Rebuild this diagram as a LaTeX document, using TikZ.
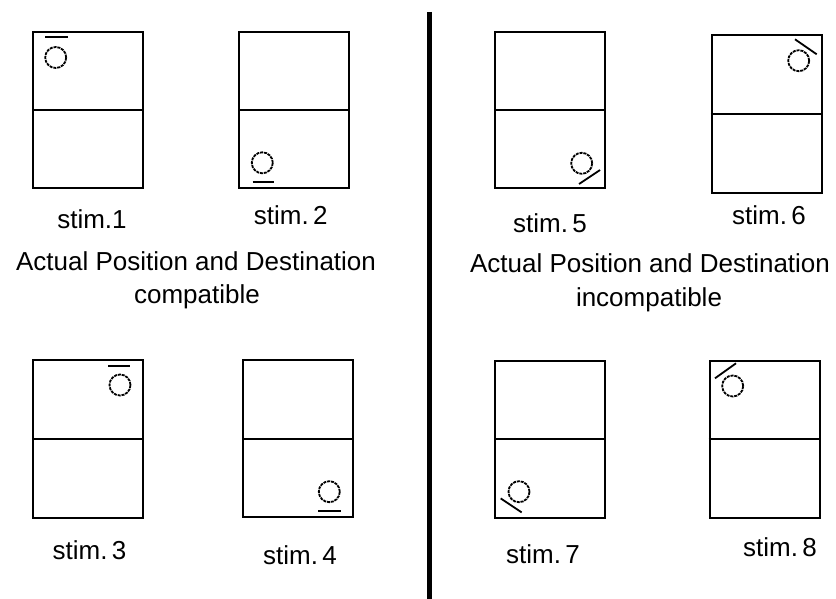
\documentclass[tikz,border=0pt]{standalone}
\usepackage{fontspec}
\setmainfont{Liberation Sans}
\begin{document}
\begin{tikzpicture}[x=1pt,y=-1pt,
  stimbox/.style={draw, line width=2pt, minimum width=110pt, minimum height=156pt, inner sep=0pt},
  ball/.style={draw, circle, line width=1.8pt, dash pattern=on 3pt off 0.9pt, minimum size=21pt, inner sep=0pt},
  mark line/.style={line width=1.8pt},
  lbl/.style={anchor=base, inner sep=0pt, font=\fontsize{26}{30}\selectfont},
  divider/.style={line width=5.5pt}
]
\useasboundingbox (0,0) rectangle (836,599);
% boxes
\node[stimbox] (b1) at (88,109.7) {};
\node[stimbox] (b2) at (294,109.7) {};
\node[stimbox] (b5) at (550.3,110) {};
\node[stimbox, minimum height=157.5pt] (b6) at (766.7,113.8) {};
\node[stimbox, minimum height=157.5pt] (b3) at (88,439) {};
\node[stimbox, minimum height=157.5pt] (b4) at (298,438.5) {};
\node[stimbox, minimum height=157.5pt] (b7) at (550.3,439.3) {};
\node[stimbox, minimum height=157.5pt] (b8) at (764.7,439.3) {};
\foreach \b in {b1,b2,b5,b6,b3,b4,b7,b8}{
  \draw[line width=2pt] (\b.west) -- (\b.east);
}
% balls
\node[ball] (c1) at (55.7,57.5) {};
\node[ball] (c2) at (262.3,162.8) {};
\node[ball] (c5) at (581.7,163.3) {};
\node[ball] (c6) at (798.7,60.7) {};
\node[ball] (c3) at (120,385) {};
\node[ball] (c4) at (329.3,491.7) {};
\node[ball] (c7) at (519,491.7) {};
\node[ball] (c8) at (732.7,386) {};
% direction marks
\draw[mark line] ([shift={(-10.4,-20.2)}]c1.center) -- ++(23,0);
\draw[mark line] ([shift={(-9.6,19.2)}]c2.center) -- ++(21.3,0);
\draw[mark line] ([shift={(-11.7,-19)}]c3.center) -- ++(21.7,0);
\draw[mark line] ([shift={(-11,19)}]c4.center) -- ++(22.4,0);
\draw[mark line] ([shift={(-2.7,20.7)}]c5.center) -- ++(21,-14);
\draw[mark line] ([shift={(-3.7,-21.4)}]c6.center) -- ++(21.7,15);
\draw[mark line] ([shift={(-18.3,6.7)}]c7.center) -- ++(21,14);
\draw[mark line] ([shift={(-17.7,-7.7)}]c8.center) -- ++(21,-15);
% divider
\coordinate (dtop) at (429.3,12);
\coordinate (dbot) at (429.3,599);
\draw[divider] (dtop) -- (dbot);
% labels
\node[lbl] (l1) at (92,228.3) {stim.1};
\node[lbl] (l2) at (290.8,225) {stim.\,2};
\node[lbl] (l5) at (550,233) {stim.\,5};
\node[lbl] (l6) at (769,225) {stim.\,6};
\node[lbl] (l3) at (89.5,559.3) {stim.\,3};
\node[lbl] (l4) at (300,564) {stim.\,4};
\node[lbl] (l7) at (543,563) {stim.\,7};
\node[lbl] (l8) at (780,556) {stim.\,8};
\node[lbl] (t1) at (196,270) {Actual Position and Destination};
\node[lbl] (t2) at (197,303) {compatible};
\node[lbl] (t3) at (650,272.5) {Actual Position and Destination};
\node[lbl] (t4) at (649,306) {incompatible};
\end{tikzpicture}
\end{document}
